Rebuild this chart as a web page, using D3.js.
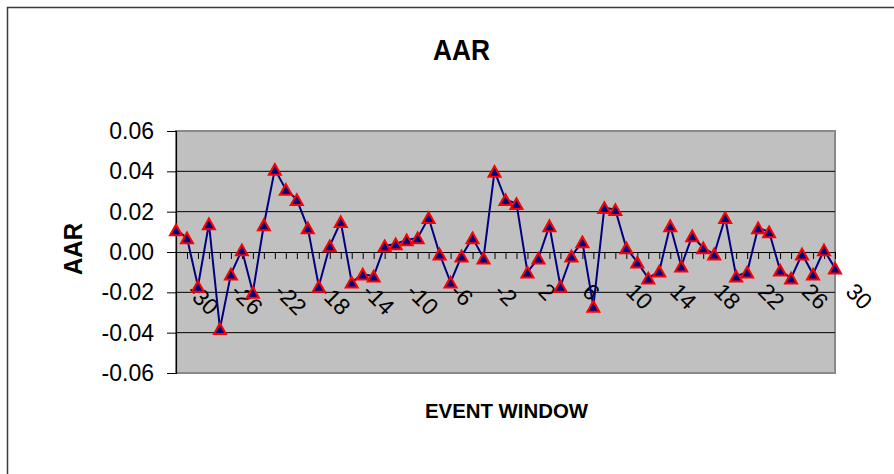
<!DOCTYPE html>
<html>
<head>
<meta charset="utf-8">
<script src="https://cdn.jsdelivr.net/npm/d3@7/dist/d3.min.js"></script>
<style>
  html, body { margin: 0; padding: 0; background: #fff; }
  svg { display: block; }
  text { font-family: "Liberation Sans", Arial, sans-serif; fill: #000; }
</style>
</head>
<body>
<script>
// Event-window days
const categories = [-30,-29,-28,-27,-26,-25,-24,-23,-22,-21,-20,-19,-18,-17,-16,-15,-14,-13,-12,-11,
  -10,-9,-8,-7,-6,-5,-4,-3,-2,-1,0,1,2,3,4,5,6,7,8,9,10,11,12,13,14,15,16,17,18,19,20,
  21,22,23,24,25,26,27,28,29,30];

// Average abnormal return for each day
const aar = [0.011,0.007,-0.017,0.014,-0.038,-0.011,0.001,-0.020,0.0135,0.041,0.031,0.026,0.012,-0.017,0.003,0.015,-0.015,-0.011,-0.012,0.003,
  0.004,0.006,0.007,0.017,-0.001,-0.015,-0.002,0.007,-0.003,0.040,0.026,0.024,-0.010,-0.003,0.013,-0.017,-0.002,0.005,-0.027,0.022,0.021,
  0.002,-0.005,-0.013,-0.0095,0.013,-0.007,0.008,0.002,-0.001,0.017,-0.012,-0.010,0.012,0.010,-0.009,-0.013,-0.001,-0.011,0.001,-0.008];

const xTickLabels = ["-30","-26","-22","-18","-14","-10","-6","-2","2","6","10","14","18","22","26","30"];
const yTickValues = [0.06,0.04,0.02,0.00,-0.02,-0.04,-0.06];
const yTickLabels = ["0.06","0.04","0.02","0.00","-0.02","-0.04","-0.06"];

const W = 894, H = 474;
const plot = { left: 176, right: 835, top: 131, bottom: 373 };

const svg = d3.select("body").append("svg").attr("width", W).attr("height", H);

// outer chart frame
svg.append("path")
  .attr("d", `M7.5,${H + 2} V7.5 H${W + 2}`)
  .attr("fill", "none").attr("stroke", "#3a3a3a").attr("stroke-width", 1.5);

const x = d3.scalePoint().domain(categories).range([plot.left, plot.right]);
const y = d3.scaleLinear().domain([-0.06, 0.06]).range([plot.bottom, plot.top]);

// plot area
svg.append("rect")
  .attr("x", plot.left).attr("y", plot.top)
  .attr("width", plot.right - plot.left).attr("height", plot.bottom - plot.top)
  .attr("fill", "#c0c0c0").attr("stroke", "#8a8a8a").attr("stroke-width", 2);

// horizontal gridlines
svg.append("g").selectAll("line")
  .data(yTickValues.filter(v => v !== 0.06 && v !== -0.06 && v !== 0))
  .join("line")
  .attr("x1", plot.left).attr("x2", plot.right)
  .attr("y1", d => y(d)).attr("y2", d => y(d))
  .attr("stroke", "#000").attr("stroke-width", 1);

// value axis
const yAxis = d3.axisLeft(y)
  .tickValues(yTickValues)
  .tickFormat((d, i) => yTickLabels[i])
  .tickSize(9).tickPadding(13);
const gy = svg.append("g").attr("transform", `translate(${plot.left},0)`).call(yAxis);
gy.select(".domain").attr("stroke", "#000").attr("stroke-width", 1.2);
gy.selectAll(".tick line").attr("stroke", "#000");
gy.selectAll(".tick text").attr("font-size", 23).attr("font-family", "Liberation Sans, Arial, sans-serif");

// category axis crossing at zero
const xAxis = d3.axisBottom(x)
  .tickValues(categories)
  .tickFormat(d => xTickLabels.includes(String(d)) ? String(d) : "")
  .tickSizeInner(7).tickSizeOuter(0);
const gx = svg.append("g").attr("transform", `translate(0,${y(0)})`).call(xAxis);
gx.select(".domain").attr("stroke", "#000").attr("stroke-width", 1.2);
gx.selectAll(".tick line").attr("stroke", "#000");
gx.selectAll(".tick text")
  .attr("x", 0).attr("y", 0).attr("dy", null)
  .attr("text-anchor", "start")
  .attr("transform", "translate(9,41) rotate(45)")
  .attr("font-size", 23).attr("font-family", "Liberation Sans, Arial, sans-serif");

// series line
const line = d3.line().x((d, i) => x(categories[i])).y(d => y(d));
svg.append("path")
  .datum(aar)
  .attr("d", line)
  .attr("fill", "none").attr("stroke", "#000080").attr("stroke-width", 2);

// triangle markers, centred on their bounding box
const tri = {
  draw(ctx, size) {
    const h = Math.sqrt(size) * 1.0, w = Math.sqrt(size) * 1.12;
    ctx.moveTo(0, -h / 2);
    ctx.lineTo(w / 2, h / 2);
    ctx.lineTo(-w / 2, h / 2);
    ctx.closePath();
  }
};
svg.append("g").selectAll("path")
  .data(aar)
  .join("path")
  .attr("transform", (d, i) => `translate(${x(categories[i])},${y(d)})`)
  .attr("d", d3.symbol(tri, 115))
  .attr("fill", "#000080").attr("stroke", "#ff0000").attr("stroke-width", 2)
  .attr("stroke-linejoin", "miter");

// titles
svg.append("text")
  .attr("x", 461.5).attr("y", 60)
  .attr("text-anchor", "middle")
  .attr("font-size", 29).attr("font-weight", "bold")
  .attr("textLength", 57).attr("lengthAdjust", "spacingAndGlyphs")
  .text("AAR");

svg.append("text")
  .attr("transform", "translate(82,249) rotate(-90)")
  .attr("text-anchor", "middle")
  .attr("font-size", 25).attr("font-weight", "bold")
  .attr("textLength", 52).attr("lengthAdjust", "spacingAndGlyphs")
  .text("AAR");

svg.append("text")
  .attr("x", 506.5).attr("y", 418)
  .attr("text-anchor", "middle")
  .attr("font-size", 21).attr("font-weight", "bold")
  .attr("textLength", 163).attr("lengthAdjust", "spacingAndGlyphs")
  .text("EVENT WINDOW");
</script>
</body>
</html>
